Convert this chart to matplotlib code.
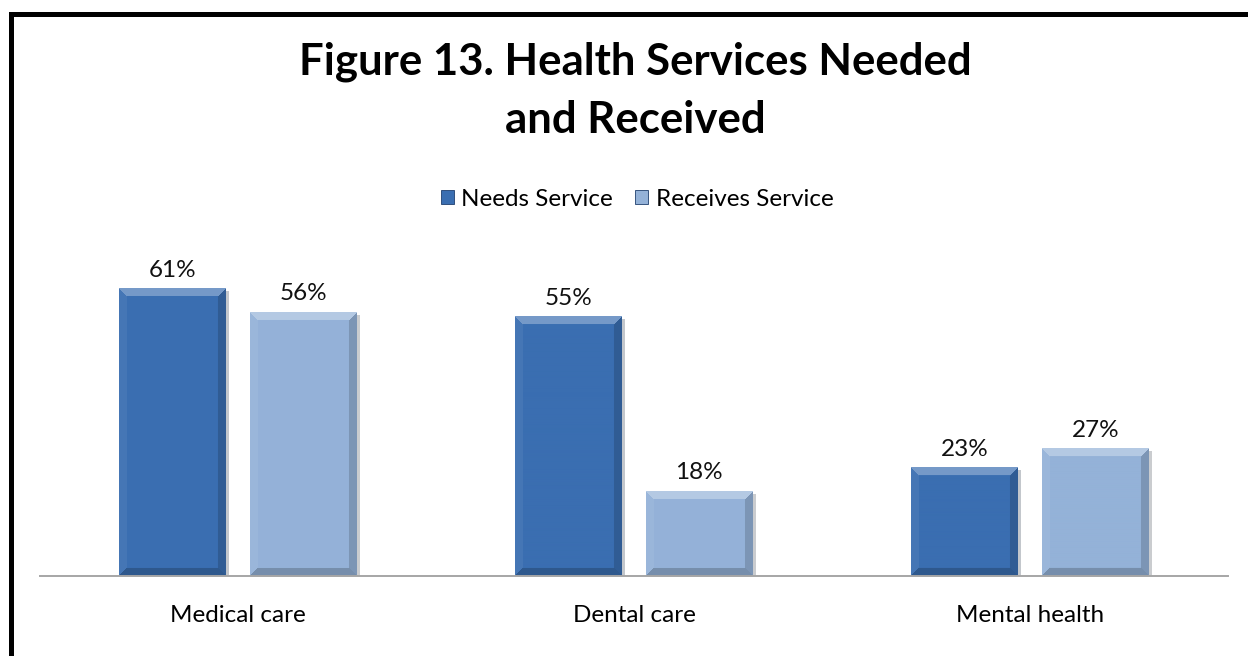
"""Grouped bar chart: health services needed vs received."""
import numpy as np
import matplotlib.pyplot as plt
from matplotlib.lines import Line2D
from matplotlib.patches import Patch
from matplotlib.colors import to_rgb
from matplotlib import patheffects as pe

categories = ['Medical care', 'Dental care', 'Mental health']
series_names = ['Needs Service', 'Receives Service']
needs = [61, 55, 23]
receives = [56, 18, 27]
title_lines = ['Figure 13. Health Services Needed', 'and Received']

colors = ['#3A6EB1', '#94B2D8']

plt.rcParams['font.family'] = ['Lato', 'DejaVu Sans']

W, H, DPI = 1248, 656, 100
fig = plt.figure(figsize=(W / DPI, H / DPI), dpi=DPI)
ax = fig.add_axes([40 / W, 1 - 576 / H, 1188 / W, 330 / H])

x = np.arange(len(categories))
bw = 0.27
off = 0.165


def shade(rgb, f):
    rgb = np.asarray(rgb, float)
    if f >= 1:
        return rgb + (1 - rgb) * (f - 1)
    return rgb * f


def bevel_image(base, wpx, hpx, b=8):
    # light top edge, dark bottom/right edge, mitred corners
    base = np.array(to_rgb(base))
    i = np.arange(hpx)[:, None] * np.ones((1, wpx))
    j = np.ones((hpx, 1)) * np.arange(wpx)[None, :]
    d = np.stack([i, hpx - 1 - i, j, wpx - 1 - j])
    which = d.argmin(axis=0)
    near = d.min(axis=0) < b
    img = np.empty((hpx, wpx, 3))
    img[:] = base
    tints = [shade(base, 1.3), shade(base, 0.8), shade(base, 1.06), shade(base, 0.84)]
    for k, t in enumerate(tints):
        img[near & (which == k)] = t
    return np.clip(img, 0, 1)


ax.set_xlim(-0.5, len(categories) - 0.5)
ax.set_ylim(0, 70)
fig.canvas.draw()

for vals, sgn, col in [(needs, -1, colors[0]), (receives, 1, colors[1])]:
    bars = ax.bar(x + sgn * off, vals, bw, color=col, zorder=2,
                  path_effects=[pe.SimplePatchShadow(offset=(2, -2), alpha=0.25),
                                pe.Normal()])
    for bar, v in zip(bars, vals):
        x0, x1 = bar.get_x(), bar.get_x() + bar.get_width()
        p0 = ax.transData.transform((x0, 0))
        p1 = ax.transData.transform((x1, v))
        img = bevel_image(col, int(round(p1[0] - p0[0])), int(round(p1[1] - p0[1])))
        ax.imshow(img, extent=(x0, x1, 0, v), aspect='auto', zorder=3,
                  interpolation='bilinear')
        ax.annotate(f'{v}%', (bar.get_x() + bar.get_width() / 2, v),
                    xytext=(0, 8.5), textcoords='offset points',
                    ha='center', va='baseline', fontsize=17.5, color='#111111')

ax.set_xlim(-0.5, len(categories) - 0.5)
ax.set_ylim(0, 70)
ax.set_xticks(x)
ax.set_xticklabels(categories, fontsize=17.5)
ax.tick_params(axis='x', length=0, pad=21)
ax.set_yticks([])
for s in ['top', 'left', 'right']:
    ax.spines[s].set_visible(False)
ax.spines['bottom'].set_color('#A6A6A6')
ax.spines['bottom'].set_linewidth(1.4)
ax.spines['bottom'].set_zorder(4)

handles = [Patch(facecolor=c, edgecolor='#1F3F6E', linewidth=0.6) for c in colors]
fig.legend(handles, series_names, loc='center', bbox_to_anchor=(637 / W, 1 - 199 / H),
           ncol=2, frameon=False, fontsize=17.5, handlelength=0.55, handleheight=0.55,
           handletextpad=0.3, columnspacing=0.9)

for line, base_y in zip(title_lines, [74, 133]):
    fig.text(635 / W, 1 - base_y / H, line, ha='center', va='baseline',
             fontsize=31.5, fontweight='bold', color='#000000')

# frame along the top and left edges
fig.add_artist(Line2D([10.5 / W, 10.5 / W, 1.01], [-0.01, 1 - 14 / H, 1 - 14 / H],
                      transform=fig.transFigure, color='black', linewidth=3.6,
                      solid_joinstyle='miter'))

fig.savefig('out.png', dpi=DPI)
